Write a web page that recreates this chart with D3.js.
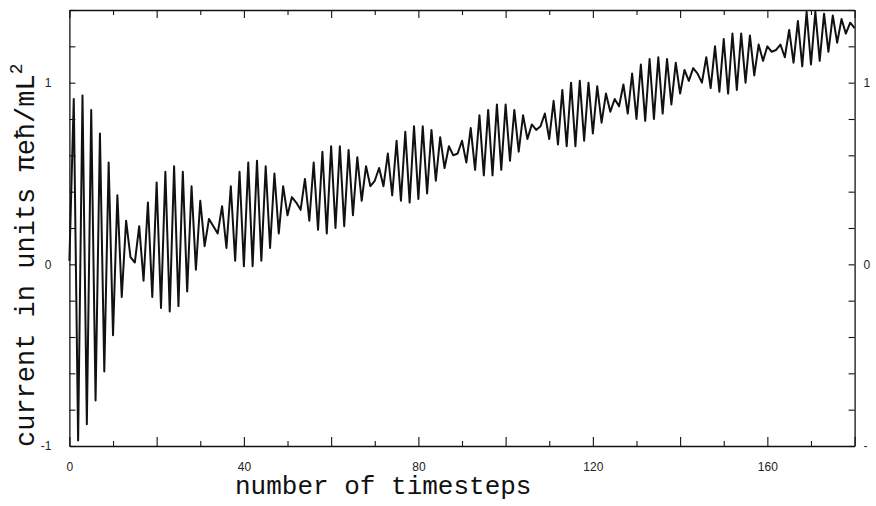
<!DOCTYPE html>
<html>
<head>
<meta charset="utf-8">
<script src="https://cdn.jsdelivr.net/npm/d3@7"></script>
<style>
body { margin: 0; background: #fff; }
</style>
</head>
<body>
<div id="chart"></div>
<script>
var width = 876,
    height = 506;

// current at each timestep 0..180
var current = [
  0.02, 0.91, -0.97, 0.93, -0.88, 0.85, -0.75, 0.72, -0.59, 0.56,
  -0.39, 0.38, -0.18, 0.24, 0.04, 0.01, 0.21, -0.09, 0.34, -0.18,
  0.45, -0.24, 0.51, -0.26, 0.54, -0.23, 0.51, -0.15, 0.43, -0.03,
  0.35, 0.10, 0.25, 0.21, 0.17, 0.32, 0.09, 0.43, 0.02, 0.51,
  -0.01, 0.56, -0.01, 0.57, 0.02, 0.54, 0.09, 0.50, 0.17, 0.43,
  0.27, 0.37, 0.34, 0.30, 0.47, 0.24, 0.56, 0.19, 0.62, 0.17,
  0.65, 0.20, 0.65, 0.21, 0.63, 0.27, 0.59, 0.35, 0.54, 0.43,
  0.46, 0.53, 0.43, 0.61, 0.38, 0.68, 0.35, 0.73, 0.34, 0.76,
  0.36, 0.76, 0.39, 0.74, 0.46, 0.70, 0.53, 0.65, 0.60, 0.61,
  0.68, 0.56, 0.75, 0.52, 0.82, 0.49, 0.85, 0.49, 0.88, 0.52,
  0.88, 0.57, 0.85, 0.62, 0.82, 0.69, 0.77, 0.74, 0.76, 0.83,
  0.69, 0.90, 0.66, 0.96, 0.65, 1.00, 0.65, 1.01, 0.68, 1.00,
  0.72, 0.98, 0.78, 0.94, 0.84, 0.91, 0.87, 0.99, 0.83, 1.05,
  0.80, 1.10, 0.79, 1.13, 0.80, 1.14, 0.83, 1.13, 0.88, 1.11,
  0.94, 1.07, 1.01, 1.08, 1.05, 1.00, 1.14, 0.97, 1.20, 0.95,
  1.24, 0.94, 1.27, 0.96, 1.27, 1.00, 1.26, 1.04, 1.21, 1.12,
  1.20, 1.17, 1.18, 1.21, 1.14, 1.29, 1.11, 1.34, 1.09, 1.39,
  1.10, 1.39, 1.12, 1.38, 1.17, 1.37, 1.22, 1.35, 1.27, 1.33,
  1.30
];

var xTickLabels = [0, 40, 80, 120, 160];
var leftTickLabels = {"-1": "-1", "0": "0", "1": "1"};
var rightTickLabels = {"-1": "-", "0": "0", "1": "1"};
var xTitle = "number of timesteps";
var yTitle = "current in units \u03C0e\u0127/mL";

var svg = d3.select("#chart")
  .append("svg")
  .attr("width", width)
  .attr("height", height)
  .style("background", "#fff");

var x = d3.scaleLinear().domain([0, 180]).range([69.4, 854.6]);
var y = d3.scaleLinear().domain([-1, 1.4]).range([446, 10]);

var xTickVals = d3.range(0, 181, 10);
var yTickVals = d3.range(-5, 8).map(k => k / 5);

function styleAxis(g) {
  g.selectAll("path.domain").attr("stroke", "#111").attr("stroke-width", 1.3);
  g.selectAll(".tick line").attr("stroke", "#111").attr("stroke-width", 1.1);
  g.selectAll("text")
    .attr("fill", "#222")
    .style("font-family", "'Liberation Sans', sans-serif")
    .style("font-size", "12px");
}

// bottom axis, ticks inward
var gb = svg.append("g")
  .attr("transform", "translate(0," + y(-1) + ")")
  .call(d3.axisBottom(x).tickValues(xTickVals).tickSizeOuter(0).tickSizeInner(-6).tickPadding(16)
    .tickFormat(d => xTickLabels.indexOf(d) >= 0 ? d : ""));
gb.selectAll(".tick line").attr("y2", d => d % 20 === 0 ? -9 : -5);
styleAxis(gb);

// top axis
var gt = svg.append("g")
  .attr("transform", "translate(0," + y(1.4) + ")")
  .call(d3.axisTop(x).tickValues(xTickVals).tickSizeOuter(0).tickSizeInner(-6).tickFormat(""));
gt.selectAll(".tick line").attr("y2", d => d % 20 === 0 ? 8 : 5);
styleAxis(gt);

// left axis
var gl = svg.append("g")
  .attr("transform", "translate(" + x(0) + ",0)")
  .call(d3.axisLeft(y).tickValues(yTickVals).tickSizeOuter(0).tickSizeInner(-6).tickPadding(18)
    .tickFormat(d => leftTickLabels[String(d)] || ""));
styleAxis(gl);

// right axis
var gr = svg.append("g")
  .attr("transform", "translate(" + x(180) + ",0)")
  .call(d3.axisRight(y).tickValues(yTickVals).tickSizeOuter(0).tickSizeInner(-6).tickPadding(9)
    .tickFormat(d => rightTickLabels[String(d)] || ""));
styleAxis(gr);

// the current trace
var line = d3.line()
  .x((d, i) => x(i))
  .y(d => y(d));

svg.append("path")
  .datum(current)
  .attr("d", line)
  .attr("fill", "none")
  .attr("stroke", "#111")
  .attr("stroke-width", 2)
  .attr("stroke-linejoin", "round");

// axis titles
svg.append("text")
  .attr("x", 235)
  .attr("y", 494)
  .attr("fill", "#111")
  .style("font-family", "'Liberation Mono', monospace")
  .style("font-size", "26px")
  .text(xTitle);

var yt = svg.append("text")
  .attr("transform", "translate(34,447) rotate(-90)")
  .attr("fill", "#111")
  .style("font-family", "'Liberation Mono', monospace")
  .style("font-size", "27px");
yt.append("tspan").text(yTitle);
yt.append("tspan").attr("dy", -12).style("font-size", "18px").text("2");
</script>
</body>
</html>
